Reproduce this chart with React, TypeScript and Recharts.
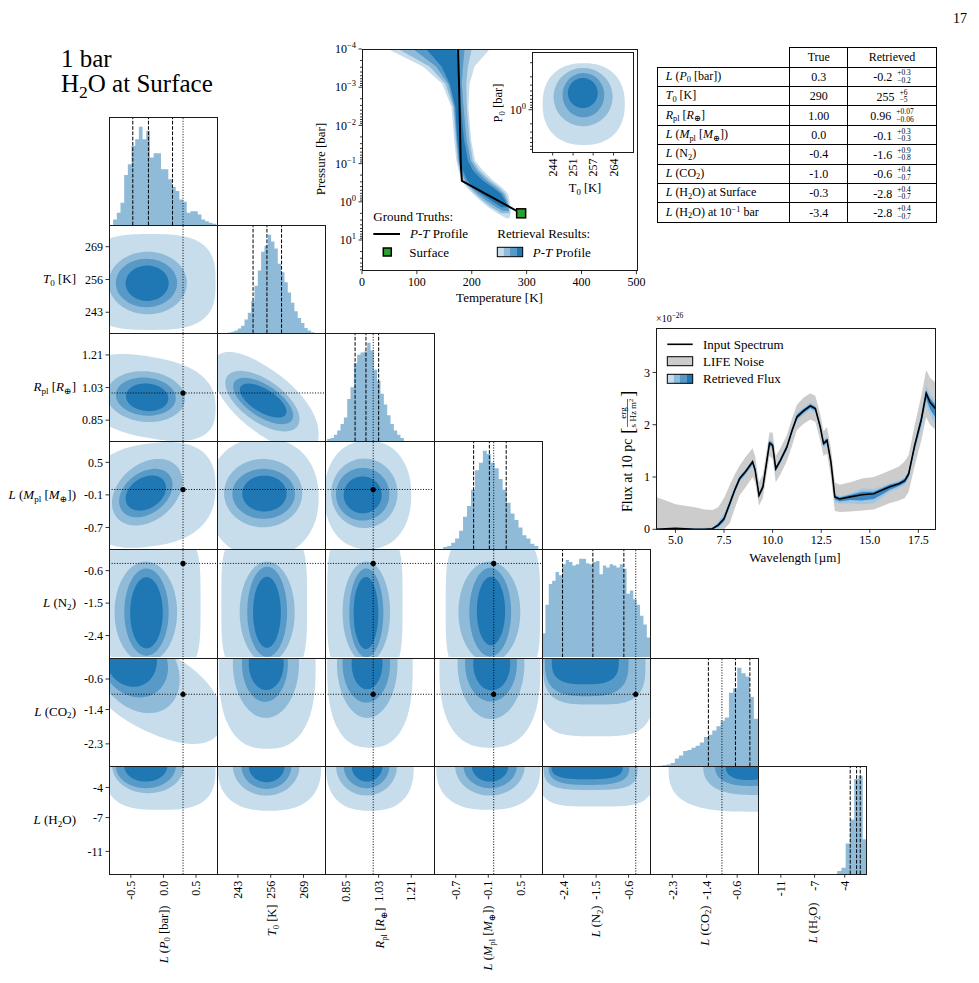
import React from 'react';
import { ComposedChart, Area, Line, XAxis, YAxis, ReferenceLine, ReferenceDot } from 'recharts';

const FONT = '"Liberation Serif", "DejaVu Serif", serif';
const LEVEL_COLORS = ['#c7ddec', '#8fbbd9', '#5799c7', '#1f77b4'];
const HIST_COLOR = '#8fbbd9';
const DOT = '1 1.65';
const DASH = '3.7 1.6';

// ---------------- corner plot data (order: P0, T0, Rpl, Mpl, N2, CO2, H2O) ----------------
const DOMAINS: number[][] = [
  [-0.835, 0.825], [234.7, 277.6], [0.734, 1.331], [-1.1, 0.893], [-3.0, 0.0], [-2.885, -0.05], [-13.6, -1.75],
];
const TICKS: number[][] = [
  [-0.5, 0, 0.5], [243, 256, 269], [0.85, 1.03, 1.21], [-0.7, -0.1, 0.5], [-2.4, -1.5, -0.6], [-2.3, -1.4, -0.6], [-11.1, -7.4, -4.1],
];
const TICK_DECIMALS = [1, 0, 2, 1, 1, 1, 0];
const TRUTHS = [0.301, 290, 1.0, 0.0, -0.4, -1.0, -0.3];
const QUANTILES: number[][] = [
  [-0.47, -0.23, 0.14], [249, 254.5, 260.3], [0.9, 0.96, 1.03], [-0.37, -0.08, 0.23],
  [-2.43, -1.59, -0.73], [-1.355, -0.646, -0.268], [-3.5, -2.8, -2.4],
];

const HIST_P0 = [17, 37, 67, 150, 182, 237, 257, 294, 257, 282, 202, 215, 215, 167, 167, 137, 114, 102, 77, 70, 37, 42, 42, 32, 17, 12, 7, 4];
const HIST_T0 = [2, 4, 8, 14, 22, 40, 60, 95, 140, 185, 240, 258, 290, 270, 250, 205, 180, 150, 120, 90, 65, 45, 30, 15, 8, 3];
const HIST_RPL = [2, 3, 6, 10, 16, 22, 39, 50, 72, 80, 82, 83, 91, 84, 66, 56, 44, 34, 24, 16, 10, 6, 3];
const HIST_MPL = [2, 3, 6, 10, 17, 30, 40, 55, 73, 80, 91, 88, 80, 75, 65, 55, 43, 33, 27, 20, 13, 10, 5, 3];
const HIST_N2 = [22, 48, 67, 70, 78, 75, 85, 89, 87, 84, 85, 90, 90, 86, 85, 87, 88, 76, 84, 82, 85, 84, 82, 85, 81, 58, 61, 53, 48, 38, 30, 18];
const HIST_CO2 = [0.5, 0.8, 1.5, 3, 7, 10, 14, 15, 17, 19, 22, 27, 29, 33, 37, 42, 45, 68, 72, 91, 86, 83, 64, 44];
const HIST_H2O = [3, 6, 28, 50, 87, 90, 32];
const HISTS = [HIST_P0, HIST_T0, HIST_RPL, HIST_MPL, HIST_N2, HIST_CO2, HIST_H2O];
const HIST_STARTS = [-0.772, 239, 0.746, -0.93, -3.0, -2.67, -4.93];
const HIST_WIDTHS = [0.0565, 1.32, 0.0184, 0.073, 0.09375, 0.109, 0.467];

// contour levels, outer -> inner: [centre x, centre y, half-width x, half-height y, shear, shape exponent]
const CT_T0_P0 = [[-0.2, 255, 1.0, 19, 0, 3], [-0.24, 254.6, 0.6, 12.4, 0, 2], [-0.26, 254.6, 0.47, 9.6, 0, 2], [-0.25, 254.5, 0.33, 7, 0, 2]];
const CT_RPL_P0 = [[-0.2, 0.975, 1.0, 0.225, -0.06, 2.6], [-0.27, 0.98, 0.6, 0.14, -0.02, 2], [-0.27, 0.98, 0.46, 0.105, -0.02, 2], [-0.25, 0.976, 0.325, 0.076, -0.02, 2]];
const CT_RPL_T0 = [[254, 0.95, 21, 0.2, -0.0085, 2.2], [252.7, 0.955, 14.7, 0.134, -0.0068, 2], [253, 0.956, 11.9, 0.1, -0.0067, 2], [253, 0.958, 9.25, 0.072, -0.0065, 2]];
const CT_MPL_P0 = [[-0.2, -0.1, 1.0, 0.95, 0.15, 2.5], [-0.25, -0.05, 0.54, 0.58, 0.37, 2], [-0.27, -0.066, 0.41, 0.42, 0.37, 2], [-0.27, -0.066, 0.31, 0.307, 0.32, 2]];
const CT_MPL_T0 = [[253, -0.15, 22, 1.1, 0, 2.2], [253, -0.066, 15.5, 0.63, 0, 2], [253.2, -0.08, 12.4, 0.46, 0, 2], [253.5, -0.075, 8.8, 0.33, 0, 2]];
const CT_MPL_RPL = [[0.97, -0.1, 0.24, 1.0, 0, 2.2], [0.951, -0.07, 0.183, 0.64, 0, 2], [0.942, -0.088, 0.147, 0.486, 0, 2], [0.942, -0.1, 0.105, 0.34, 0, 2]];
const CT_N2_P0 = [[-0.15, -1.5, 0.72, 2.0, 0, 4], [-0.27, -1.75, 0.48, 1.4, 0, 2], [-0.26, -1.75, 0.34, 1.21, 0, 2], [-0.26, -1.77, 0.25, 0.986, 0, 2]];
const CT_N2_T0 = [[253.4, -1.5, 17, 2.0, 0, 4], [254.6, -1.75, 10.9, 1.4, 0, 2], [254.6, -1.74, 7.9, 1.25, 0, 2], [254.5, -1.755, 5.5, 0.985, 0, 2]];
const CT_N2_RPL = [[0.954, -1.5, 0.208, 2.0, 0, 4], [0.962, -1.75, 0.131, 1.4, 0, 2], [0.962, -1.77, 0.094, 1.23, 0, 2], [0.96, -1.775, 0.068, 1.0, 0, 2]];
const CT_N2_MPL = [[-0.015, -1.6, 0.87, 2.0, 0, 4], [-0.08, -1.75, 0.57, 1.4, 0, 2], [-0.064, -1.75, 0.385, 1.23, 0, 2], [-0.05, -1.72, 0.26, 0.95, 0, 2]];
const CT_CO2_P0 = [[-0.15, -0.9, 1.05, 1.15, -0.7, 2.2], [-0.4, -0.3, 0.65, 1.15, -0.5, 2], [-0.45, -0.15, 0.52, 0.92, -0.3, 2], [-0.5, -0.05, 0.4, 0.75, -0.2, 2]];
const CT_CO2_T0 = [[254.6, -0.3, 19.2, 2.13, 0, 2.5], [254.1, -0.2, 13.1, 1.42, 0, 2], [253.7, -0.2, 9.1, 1.0, 0, 2], [254.2, -0.2, 6.9, 0.69, 0, 2]];
const CT_CO2_RPL = [[0.982, -0.3, 0.236, 2.1, 0, 2.5], [0.967, -0.2, 0.167, 1.42, 0, 2], [0.962, -0.2, 0.131, 1.02, 0, 2], [0.966, -0.2, 0.085, 0.67, 0, 2]];
const CT_CO2_MPL = [[-0.07, -0.3, 0.93, 2.1, 0, 2.5], [-0.05, -0.2, 0.615, 1.45, 0, 2], [-0.05, -0.2, 0.477, 0.99, 0, 2], [-0.037, -0.2, 0.34, 0.7, 0, 2]];
const CT_CO2_N2 = [[-1.5, -0.1, 1.65, 2.0, 0, 4], [-1.55, -0.1, 1.42, 1.17, 0, 3.5], [-1.76, -0.1, 1.16, 0.95, 0, 3], [-1.8, -0.1, 0.93, 0.64, 0, 3]];
const CT_H2O_P0 = [[-0.05, -1.75, 0.85, 4.8, 0, 3], [-0.235, -1.75, 0.55, 2.98, 0, 2], [-0.27, -1.75, 0.46, 2.43, 0, 2], [-0.27, -1.75, 0.33, 1.71, 0, 2]];
const CT_H2O_T0 = [[255.5, -1.75, 20.5, 4.9, 0, 2.5], [254.2, -1.75, 13.2, 3.24, 0, 2], [254.3, -1.75, 9.9, 2.51, 0, 2], [254.4, -1.75, 7.1, 1.78, 0, 2]];
const CT_H2O_RPL = [[0.982, -1.75, 0.242, 4.9, 0, 2.5], [0.963, -1.75, 0.168, 3.24, 0, 2], [0.963, -1.75, 0.126, 2.43, 0, 2], [0.966, -1.75, 0.085, 1.71, 0, 2]];
const CT_H2O_MPL = [[-0.1, -1.75, 0.96, 4.8, 0, 2.5], [-0.07, -1.75, 0.64, 3.24, 0, 2], [-0.066, -1.75, 0.49, 2.43, 0, 2], [-0.067, -1.75, 0.337, 1.71, 0, 2]];
const CT_H2O_N2 = [[-1.5, -1.75, 1.6, 4.44, 0, 4], [-1.65, -1.75, 1.3, 2.62, 0, 3.5], [-1.7, -1.75, 1.12, 2.07, 0, 3], [-1.75, -1.75, 0.99, 1.45, 0, 3]];
const CT_H2O_CO2 = [[-0.15, -1.75, 2.25, 5.0, 0, 3], [-0.2, -1.75, 1.29, 3.17, 0, 2.5], [-0.25, -1.75, 0.93, 2.18, 0, 2.5], [-0.3, -1.75, 0.6, 1.53, 0, 2.5]];
const CONTOURS: Record<string, number[][]> = {
  '1-0': CT_T0_P0,
  '2-0': CT_RPL_P0, '2-1': CT_RPL_T0,
  '3-0': CT_MPL_P0, '3-1': CT_MPL_T0, '3-2': CT_MPL_RPL,
  '4-0': CT_N2_P0, '4-1': CT_N2_T0, '4-2': CT_N2_RPL, '4-3': CT_N2_MPL,
  '5-0': CT_CO2_P0, '5-1': CT_CO2_T0, '5-2': CT_CO2_RPL, '5-3': CT_CO2_MPL, '5-4': CT_CO2_N2,
  '6-0': CT_H2O_P0, '6-1': CT_H2O_T0, '6-2': CT_H2O_RPL, '6-3': CT_H2O_MPL, '6-4': CT_H2O_N2, '6-5': CT_H2O_CO2,
};

type Seg = [string, string?];
const LABELS: Seg[][] = [
  [['L', 'i'], [' ('], ['P', 'i'], ['0', 's'], [' [bar])']],
  [['T', 'i'], ['0', 's'], [' [K]']],
  [['R', 'i'], ['pl', 's'], [' ['], ['R', 'i'], ['⊕', 's'], [']']],
  [['L', 'i'], [' ('], ['M', 'i'], ['pl', 's'], [' ['], ['M', 'i'], ['⊕', 's'], ['])']],
  [['L', 'i'], [' (N'], ['2', 's'], [')']],
  [['L', 'i'], [' (CO'], ['2', 's'], [')']],
  [['L', 'i'], [' (H'], ['2', 's'], ['O)']],
];

// ---------------- P-T profile data ----------------
// rows: [log10 pressure (bar), T low (K), T high (K)]
const PT_L1 = [[-4.0, 47, 233], [-3.54, 111, 205], [-3.09, 146, 196], [-2.48, 163, 194], [-1.61, 168, 199], [-1.08, 172, 206], [-0.82, 176, 220], [-0.56, 182, 239], [-0.39, 190, 254], [-0.21, 202, 266], [-0.03, 216, 269], [0.14, 230, 271], [0.31, 248, 271], [0.43, 263, 269]];
const PT_L2 = [[-4.0, 66, 200], [-3.54, 123, 193], [-3.09, 152, 190], [-2.48, 166, 191], [-1.61, 171, 196], [-1.08, 174, 202], [-0.82, 178, 214], [-0.56, 185, 233], [-0.39, 194, 249], [-0.21, 206, 261], [-0.03, 220, 266], [0.14, 236, 268], [0.3, 254, 269]];
const PT_L3 = [[-4.0, 93, 187], [-3.54, 135, 184], [-3.09, 157, 182], [-2.48, 168, 185], [-1.61, 172.5, 190.7], [-1.08, 176, 198], [-0.82, 181, 209], [-0.56, 188, 227], [-0.39, 198, 243], [-0.21, 211, 257], [-0.03, 227, 264], [0.14, 245, 267], [0.24, 257, 268]];
const PT_L4 = [[-4.0, 117, 172], [-3.54, 145, 175], [-3.09, 160, 176], [-2.48, 170, 180], [-1.61, 174, 186], [-1.08, 178, 193], [-0.82, 184, 202], [-0.56, 192, 220], [-0.39, 202, 237], [-0.21, 217, 253], [-0.03, 236, 261], [0.14, 254, 266]];
const PT_BANDS = [PT_L1, PT_L2, PT_L3, PT_L4];
const PT_TRUE_T = [175, 177, 178.5, 180, 182, 290];
const PT_TRUE_LOGP = [-4, -3, -2, -1, -0.55, 0.301];
const SURFACE_T = 290;
const SURFACE_P_BAR = 2.0;
const PT_T_TICKS = [0, 100, 200, 300, 400, 500];
const PT_DECADES = [-4, -3, -2, -1, 0, 1];

// inset: T0 (K) vs log10 P0 (bar)
const CT_INSET = [[254.2, -0.12, 13.5, 0.87, 0, 2.3], [254, -0.27, 9.7, 0.62, 0, 2], [254.1, -0.31, 6.85, 0.47, 0, 2], [253.9, -0.355, 4.9, 0.32, 0, 2]];
const INSET_T_TICKS = [244, 250.7, 257.3, 264];
const INSET_P_FACTORS = [0.1, 0.2, 0.3, 0.4, 0.5, 0.6, 0.7, 0.8, 0.9, 1, 2, 3, 4, 5, 6, 7];

// ---------------- spectrum data ----------------
const WAVELENGTH = [4.0, 4.5, 5.0, 5.5, 6.0, 6.5, 6.9, 7.2, 7.5, 7.8, 8.05, 8.3, 8.6, 8.97, 9.1, 9.3, 9.5, 9.84, 10.0, 10.16, 10.4, 10.73, 11.0, 11.25, 11.6, 11.94, 12.2, 12.45, 12.62, 12.8, 13.0, 13.2, 13.45, 14.0, 14.6, 15.2, 15.7, 16.0, 16.5, 16.8, 17.0, 17.3, 17.65, 17.9, 18.1, 18.4];
const FLUX = [0, 0.01, 0.02, 0.01, 0, 0, 0.01, 0.08, 0.2, 0.5, 0.75, 0.97, 1.1, 1.29, 1.13, 0.65, 0.81, 1.65, 1.61, 1.16, 1.32, 1.57, 1.89, 2.15, 2.27, 2.36, 2.31, 1.96, 1.64, 1.7, 1.29, 0.62, 0.58, 0.62, 0.66, 0.68, 0.76, 0.81, 0.87, 0.93, 1.06, 1.59, 2.1, 2.6, 2.43, 2.3];
const NOISE_LO = [0, 0, 0, 0, 0, 0, 0, 0, 0, 0.12, 0.4, 0.65, 0.8, 1.0, 0.9, 0.45, 0.6, 1.4, 1.35, 0.9, 1.05, 1.3, 1.6, 1.9, 2.02, 2.1, 2.05, 1.7, 1.4, 1.45, 1.0, 0.35, 0.33, 0.34, 0.36, 0.38, 0.45, 0.5, 0.55, 0.6, 0.72, 1.2, 1.7, 2.15, 2.0, 1.9];
const NOISE_HI = [0.62, 0.55, 0.48, 0.45, 0.42, 0.38, 0.37, 0.42, 0.6, 0.85, 1.05, 1.22, 1.38, 1.55, 1.4, 0.9, 1.05, 1.85, 1.85, 1.4, 1.55, 1.8, 2.12, 2.38, 2.52, 2.6, 2.55, 2.2, 1.88, 1.95, 1.55, 0.9, 0.85, 0.9, 0.97, 1.0, 1.07, 1.12, 1.2, 1.3, 1.42, 1.98, 2.55, 3.05, 2.9, 2.8];
const RET1_LO = [0, 0, 0, 0, 0, 0, 0, 0.02, 0.12, 0.4, 0.68, 0.9, 1.03, 1.22, 1.08, 0.6, 0.76, 1.57, 1.53, 1.08, 1.25, 1.5, 1.8, 2.07, 2.19, 2.29, 2.23, 1.88, 1.56, 1.62, 1.2, 0.52, 0.49, 0.5, 0.48, 0.5, 0.63, 0.71, 0.79, 0.85, 0.97, 1.45, 1.94, 2.4, 2.2, 2.0];
const RET1_HI = [0.02, 0.02, 0.03, 0.03, 0.02, 0.03, 0.04, 0.14, 0.3, 0.58, 0.82, 1.03, 1.15, 1.34, 1.2, 0.72, 0.88, 1.72, 1.68, 1.2, 1.38, 1.63, 1.95, 2.22, 2.33, 2.42, 2.37, 2.03, 1.71, 1.77, 1.35, 0.67, 0.63, 0.68, 0.78, 0.77, 0.83, 0.87, 0.93, 1.0, 1.13, 1.67, 2.22, 2.75, 2.58, 2.45];
const RET2_LO = [0, 0, 0, 0, 0, 0, 0, 0.05, 0.16, 0.45, 0.71, 0.93, 1.06, 1.25, 1.1, 0.62, 0.78, 1.6, 1.57, 1.12, 1.28, 1.53, 1.85, 2.11, 2.23, 2.32, 2.27, 1.92, 1.6, 1.66, 1.25, 0.57, 0.53, 0.56, 0.55, 0.58, 0.68, 0.75, 0.83, 0.89, 1.01, 1.52, 2.02, 2.5, 2.3, 2.12];
const RET2_HI = [0.01, 0.01, 0.02, 0.02, 0.01, 0.01, 0.02, 0.11, 0.24, 0.54, 0.79, 1.0, 1.13, 1.32, 1.17, 0.69, 0.85, 1.69, 1.65, 1.19, 1.35, 1.6, 1.92, 2.19, 2.3, 2.39, 2.34, 2.0, 1.68, 1.74, 1.32, 0.65, 0.61, 0.66, 0.72, 0.72, 0.8, 0.85, 0.9, 0.97, 1.1, 1.63, 2.16, 2.66, 2.5, 2.38];
const SPEC_X_TICKS = [5, 7.5, 10, 12.5, 15, 17.5];
const SPEC_Y_TICKS = [0, 1, 2, 3];

// ---------------- table ----------------
const TABLE_NAMES: Seg[][] = [
  LABELS[0], LABELS[1], LABELS[2], LABELS[3], LABELS[4], LABELS[5],
  [...LABELS[6], [' at Surface']],
  [...LABELS[6], [' at 10'], ['−1', 'p'], [' bar']],
];
const TABLE_TRUE = ['0.3', '290', '1.00', '0.0', '-0.4', '-1.0', '-0.3', '-3.4'];
const TABLE_MED = ['-0.2', '255', '0.96', '-0.1', '-1.6', '-0.6', '-2.8', '-2.8'];
const TABLE_PLUS = ['+0.3', '+6', '+0.07', '+0.3', '+0.9', '+0.4', '+0.4', '+0.4'];
const TABLE_MINUS = ['−0.2', '−5', '−0.06', '−0.3', '−0.8', '−0.7', '−0.7', '−0.7'];

// ---------------- geometry ----------------
const CELL = 108.2;
const GX = 109;
const GY = 116.5;
const YW = 40;
const XH = 30;

// ---------------- helpers ----------------
function bandRows(p: number[], n = 72) {
  const [cx, cy, a, b, s, pw = 2] = p;
  const rows: { x: number; r: number[] }[] = [];
  for (let i = 0; i <= n; i++) {
    const t = -Math.cos((Math.PI * i) / n);
    const x = cx + a * t;
    const h = b * Math.pow(Math.max(0, 1 - Math.pow(Math.abs(t), pw)), 1 / pw);
    const yc = cy + s * (x - cx);
    rows.push({ x, r: [yc - h, yc + h] });
  }
  return rows;
}

function histRows(counts: number[], start: number, width: number) {
  const rows = counts.map((c, i) => ({ x: start + i * width, c }));
  rows.push({ x: start + counts.length * width, c: counts[counts.length - 1] });
  return rows;
}

function renderSegs(segs: Seg[], size: number) {
  let shift = 0;
  return segs.map(([t, st], i) => {
    const isSub = st === 's' || st === 'si';
    const isSup = st === 'p';
    const target = isSub ? size * 0.22 : isSup ? -size * 0.4 : 0;
    const dy = target - shift;
    shift = target;
    return (
      <tspan key={i} dy={dy !== 0 ? dy : undefined} fontStyle={st === 'i' || st === 'si' ? 'italic' : undefined} fontSize={isSub || isSup ? size * 0.7 : undefined}>
        {t}
      </tspan>
    );
  });
}

function htmlSegs(segs: Seg[]) {
  return segs.map(([t, st], i) => {
    if (st === 'i') return <i key={i}>{t}</i>;
    if (st === 's') return <span key={i} style={{ fontSize: '0.7em', position: 'relative', top: '0.3em' }}>{t}</span>;
    if (st === 'p') return <span key={i} style={{ fontSize: '0.7em', position: 'relative', top: '-0.45em' }}>{t}</span>;
    return <span key={i}>{t}</span>;
  });
}

// rough width (px) of a 12px tick label, used to place the rotated axis titles below it
function tickLabelWidth(s: string) {
  let w = 0;
  for (const ch of s) w += ch === '.' ? 3 : ch === '-' ? 4 : 6;
  return w;
}

const txt = { fontSize: 12, fontFamily: FONT, fill: '#000' };

function leftTick(decimals: number) {
  return (props: any) => {
    const { x, y, payload } = props;
    return (
      <g>
        <line x1={x - 3.5} y1={y} x2={x} y2={y} stroke="#000" strokeWidth={0.8} />
        <text x={x - 6} y={y} dy="0.35em" textAnchor="end" {...txt}>{Number(payload.value).toFixed(decimals)}</text>
      </g>
    );
  };
}

function bottomTickRot(decimals: number) {
  return (props: any) => {
    const { x, y, payload } = props;
    const ty = y + 6.5;
    return (
      <g>
        <line x1={x} y1={y} x2={x} y2={y + 3.5} stroke="#000" strokeWidth={0.8} />
        <text x={x} y={ty} dy="0.35em" textAnchor="end" transform={`rotate(-90 ${x} ${ty})`} {...txt}>
          {Number(payload.value).toFixed(decimals)}
        </text>
      </g>
    );
  };
}

function bottomTickFlat(decimals: number) {
  return (props: any) => {
    const { x, y, payload } = props;
    return (
      <g>
        <line x1={x} y1={y} x2={x} y2={y + 3.5} stroke="#000" strokeWidth={0.8} />
        <text x={x} y={y + 6} dy="0.75em" textAnchor="middle" {...txt}>{Number(payload.value).toFixed(decimals)}</text>
      </g>
    );
  };
}

// ---------------- corner panel ----------------
function CornerPanel({ r, c }: { r: number; c: number }) {
  const isHist = r === c;
  const showY = c === 0 && r > 0;
  const showX = r === 6;
  const yw = showY ? YW : 0;
  const xh = showX ? XH : 0;
  const left = GX + c * CELL - yw;
  const top = GY + r * CELL;
  const yDom = isHist ? [0, Math.max(...HISTS[c]) * 1.1] : DOMAINS[r];
  const items: React.ReactNode[] = [];
  if (isHist) {
    items.push(
      <Area key="h" data={histRows(HISTS[c], HIST_STARTS[c], HIST_WIDTHS[c])} dataKey="c" type="stepAfter" fill={HIST_COLOR} fillOpacity={1} stroke="none" isAnimationActive={false} />
    );
    QUANTILES[c].forEach((q, i) =>
      items.push(<ReferenceLine key={'q' + i} x={q} stroke="#000" strokeWidth={1} strokeDasharray={DASH} />)
    );
    items.push(<ReferenceLine key="t" x={TRUTHS[c]} stroke="#000" strokeWidth={1} strokeDasharray={DOT} />);
  } else {
    CONTOURS[`${r}-${c}`].forEach((lv, i) =>
      items.push(
        <Area key={'a' + i} data={bandRows(lv)} dataKey="r" type="linear" fill={LEVEL_COLORS[i]} fillOpacity={1} stroke="none" isAnimationActive={false} />
      )
    );
    items.push(<ReferenceLine key="tx" x={TRUTHS[c]} stroke="#000" strokeWidth={1} strokeDasharray={DOT} />);
    items.push(<ReferenceLine key="ty" y={TRUTHS[r]} stroke="#000" strokeWidth={1} strokeDasharray={DOT} />);
    items.push(<ReferenceDot key="td" x={TRUTHS[c]} y={TRUTHS[r]} r={2.6} fill="#000" stroke="none" />);
  }
  return (
    <div style={{ position: 'absolute', left, top }}>
      <ComposedChart width={CELL + yw} height={CELL + xh} margin={{ top: 0, right: 0, bottom: 0, left: 0 }}>
        <XAxis type="number" dataKey="x" domain={DOMAINS[c]} allowDataOverflow ticks={TICKS[c]} interval={0} hide={!showX} height={XH} tickSize={0} tickMargin={0} tickLine={false} axisLine={false} tick={bottomTickRot(TICK_DECIMALS[c])} />
        <YAxis type="number" domain={yDom} allowDataOverflow ticks={showY ? TICKS[r] : undefined} interval={0} hide={!showY} width={YW} tickSize={0} tickMargin={0} tickLine={false} axisLine={false} tick={leftTick(TICK_DECIMALS[r])} />
        {items}
      </ComposedChart>
    </div>
  );
}

// ---------------- P-T chart ----------------
const PT_PLOT = { x: 362.3, y: 48.5, w: 274.4, h: 221.6 };
function ptYTick(props: any) {
  const { x, y, payload } = props;
  const v = payload.value;
  const major = Math.abs(v - Math.round(v)) < 1e-6;
  const n = Math.round(v);
  return (
    <g>
      <line x1={x - (major ? 3.5 : 2)} y1={y} x2={x} y2={y} stroke="#000" strokeWidth={0.8} />
      {major ? (
        <text x={x - 6} y={y} dy="0.35em" textAnchor="end" {...txt}>
          10<tspan dy={-5} fontSize={8.5}>{n < 0 ? '−' + Math.abs(n) : String(n)}</tspan>
        </text>
      ) : null}
    </g>
  );
}
function PTChart() {
  const yw = 48;
  const xh = 30;
  const rm = 14;
  const tm = 12;
  const pTicks: number[] = [];
  PT_DECADES.forEach((d) => {
    for (let k = 1; k <= 9; k++) {
      const v = d + Math.log10(k);
      if (v <= 1.8) pTicks.push(v);
    }
  });
  const bandData = (b: number[][]) => b.map(([lp, lo, hi]) => ({ lp, t: [lo, hi] }));
  const trueData = PT_TRUE_T.map((t, i) => ({ lp: PT_TRUE_LOGP[i], t }));
  return (
    <div style={{ position: 'absolute', left: PT_PLOT.x - yw, top: PT_PLOT.y - tm }}>
      <ComposedChart layout="vertical" width={PT_PLOT.w + yw + rm} height={PT_PLOT.h + xh + tm} margin={{ top: tm, right: rm, bottom: 0, left: 0 }}>
        <XAxis type="number" domain={[0, 500]} ticks={PT_T_TICKS} allowDataOverflow interval={0} height={xh} tickSize={0} tickMargin={0} tickLine={false} axisLine={false} tick={bottomTickFlat(0)} />
        <YAxis type="number" dataKey="lp" domain={[-4, 1.8]} allowDataOverflow ticks={pTicks} interval={0} width={yw} tickSize={0} tickMargin={0} tickLine={false} axisLine={false} tick={ptYTick} />
        {PT_BANDS.map((b, i) => (
          <Area key={i} data={bandData(b)} dataKey="t" type="linear" fill={LEVEL_COLORS[i]} fillOpacity={1} stroke="none" isAnimationActive={false} />
        ))}
        <Line data={trueData} dataKey="t" type="linear" stroke="#000" strokeWidth={2} dot={false} isAnimationActive={false} />
        <ReferenceDot
          x={SURFACE_T}
          y={Math.log10(SURFACE_P_BAR)}
          shape={(p: any) => <rect x={p.cx - 4.5} y={p.cy - 4.5} width={9} height={9} fill="#2ca02c" stroke="#000" strokeWidth={1.5} />}
        />
      </ComposedChart>
    </div>
  );
}

const INSET_PLOT = { x: 531.7, y: 52.3, w: 101, h: 100 };
function insetYTick(props: any) {
  const { x, y, payload } = props;
  const major = Math.abs(payload.value) < 1e-6;
  return (
    <g>
      <line x1={x - (major ? 3.5 : 2)} y1={y} x2={x} y2={y} stroke="#000" strokeWidth={0.8} />
      {major ? (
        <text x={x - 6} y={y} dy="0.35em" textAnchor="end" {...txt}>
          10<tspan dy={-5} fontSize={8.5}>0</tspan>
        </text>
      ) : null}
    </g>
  );
}
function InsetChart() {
  const yw = 30;
  const xh = 30;
  const pTicks = INSET_P_FACTORS.map((f) => Math.log10(f));
  return (
    <div style={{ position: 'absolute', left: INSET_PLOT.x - yw, top: INSET_PLOT.y }}>
      <ComposedChart width={INSET_PLOT.w + yw} height={INSET_PLOT.h + xh} margin={{ top: 0, right: 0, bottom: 0, left: 0 }}>
        <XAxis type="number" dataKey="x" domain={[237.2, 270.4]} allowDataOverflow ticks={INSET_T_TICKS} interval={0} height={xh} tickSize={0} tickMargin={0} tickLine={false} axisLine={false} tick={bottomTickRot(0)} />
        <YAxis type="number" domain={[-1.228, 0.9]} reversed allowDataOverflow ticks={pTicks} interval={0} width={yw} tickSize={0} tickMargin={0} tickLine={false} axisLine={false} tick={insetYTick} />
        {CT_INSET.map((lv, i) => (
          <Area key={i} data={bandRows(lv)} dataKey="r" type="linear" fill={LEVEL_COLORS[i]} fillOpacity={1} stroke="none" isAnimationActive={false} />
        ))}
      </ComposedChart>
    </div>
  );
}

// ---------------- spectrum ----------------
const SPEC_PLOT = { x: 655.7, y: 327.7, w: 279.3, h: 201.3 };
function SpectrumChart() {
  const yw = 22;
  const xh = 22;
  const rows = WAVELENGTH.map((w, i) => ({
    w,
    flux: FLUX[i],
    noise: [NOISE_LO[i], NOISE_HI[i]],
    ret1: [RET1_LO[i], RET1_HI[i]],
    ret2: [RET2_LO[i], RET2_HI[i]],
  }));
  return (
    <div style={{ position: 'absolute', left: SPEC_PLOT.x - yw, top: SPEC_PLOT.y }}>
      <ComposedChart data={rows} width={SPEC_PLOT.w + yw} height={SPEC_PLOT.h + xh} margin={{ top: 0, right: 0, bottom: 0, left: 0 }}>
        <XAxis type="number" dataKey="w" domain={[4.0, 18.37]} allowDataOverflow ticks={SPEC_X_TICKS} interval={0} height={xh} tickSize={0} tickMargin={0} tickLine={false} axisLine={false} tick={bottomTickFlat(1)} />
        <YAxis type="number" domain={[0, 3.85]} allowDataOverflow ticks={SPEC_Y_TICKS} interval={0} width={yw} tickSize={0} tickMargin={0} tickLine={false} axisLine={false} tick={leftTick(0)} />
        <Area dataKey="noise" type="linear" fill="#cccccc" fillOpacity={1} stroke="none" isAnimationActive={false} />
        <Area dataKey="ret1" type="linear" fill="#9fc6e2" fillOpacity={1} stroke="none" isAnimationActive={false} />
        <Area dataKey="ret2" type="linear" fill="#3d88c3" fillOpacity={1} stroke="none" isAnimationActive={false} />
        <Line dataKey="flux" type="linear" stroke="#000" strokeWidth={1.6} dot={false} isAnimationActive={false} />
      </ComposedChart>
    </div>
  );
}

// ---------------- table ----------------
function ResultsTable() {
  const cell: React.CSSProperties = { border: '1px solid #000', height: 18.4, padding: 0, fontSize: 12, lineHeight: '12px', whiteSpace: 'nowrap' };
  return (
    <table style={{ position: 'absolute', left: 656.7, top: 47.3, borderCollapse: 'collapse', fontFamily: FONT, tableLayout: 'fixed', width: 279 }}>
      <colgroup>
        <col style={{ width: 132.6 }} />
        <col style={{ width: 58 }} />
        <col style={{ width: 88.4 }} />
      </colgroup>
      <tbody>
        <tr>
          <td style={{ ...cell, border: 'none' }} />
          <td style={{ ...cell, textAlign: 'center' }}>True</td>
          <td style={{ ...cell, textAlign: 'center' }}>Retrieved</td>
        </tr>
        {TABLE_NAMES.map((n, i) => (
          <tr key={i}>
            <td style={{ ...cell, paddingLeft: 8 }}>{htmlSegs(n)}</td>
            <td style={{ ...cell, textAlign: 'center' }}>{TABLE_TRUE[i]}</td>
            <td style={{ ...cell, textAlign: 'center' }}>
              <span style={{ verticalAlign: 'middle' }}>{TABLE_MED[i]}</span>
              <span style={{ display: 'inline-block', verticalAlign: 'middle', fontSize: 7.5, lineHeight: '7.5px', textAlign: 'left', marginLeft: 5 }}>
                {TABLE_PLUS[i]}
                <br />
                {TABLE_MINUS[i]}
              </span>
            </td>
          </tr>
        ))}
      </tbody>
    </table>
  );
}

// ---------------- text + frame overlay ----------------
function crispRect(x: number, y: number, w: number, h: number, key: string) {
  const x0 = Math.round(x);
  const y0 = Math.round(y);
  const x1 = Math.round(x + w);
  const y1 = Math.round(y + h);
  return <rect key={key} x={x0 + 0.5} y={y0 + 0.5} width={x1 - x0 - 1} height={y1 - y0 - 1} fill="none" stroke="#1a1a1a" strokeWidth={1} />;
}

function Overlay() {
  const lab = { fontFamily: FONT, fill: '#000' };
  const frames: React.ReactNode[] = [];
  for (let r = 0; r < 7; r++) {
    for (let c = 0; c <= r; c++) frames.push(crispRect(GX + c * CELL, GY + r * CELL, CELL + 1, CELL + 1, `f${r}-${c}`));
  }
  frames.push(crispRect(PT_PLOT.x, PT_PLOT.y, PT_PLOT.w + 1, PT_PLOT.h + 1, 'fpt'));
  frames.push(crispRect(INSET_PLOT.x, INSET_PLOT.y, INSET_PLOT.w + 1, INSET_PLOT.h + 1, 'fin'));
  frames.push(crispRect(SPEC_PLOT.x, SPEC_PLOT.y, SPEC_PLOT.w + 1, SPEC_PLOT.h + 1, 'fsp'));
  return (
    <svg width={979} height={983} style={{ position: 'absolute', left: 0, top: 0, pointerEvents: 'none' }}>
      {frames}
      <text x={967} y={23} textAnchor="end" fontSize={14} {...lab}>17</text>
      <text x={61} y={66.5} fontSize={25} {...lab}>1 bar</text>
      <text x={61} y={92} fontSize={25} {...lab}>{renderSegs([['H'], ['2', 's'], ['O at Surface']], 25)}</text>

      {LABELS.map((segs, r) =>
        r === 0 ? null : (
          <text key={'yl' + r} x={76} y={GY + (r + 0.5) * CELL + 4} textAnchor="end" fontSize={13} {...lab}>
            {renderSegs(segs, 13)}
          </text>
        )
      )}
      {LABELS.map((segs, c) => {
        const cx = GX + (c + 0.5) * CELL + 4.5;
        const longest = Math.max(...TICKS[c].map((v) => tickLabelWidth(v.toFixed(TICK_DECIMALS[c]))));
        const ty = 880.5 + longest + 6;
        return (
          <text key={'xl' + c} x={cx} y={ty} textAnchor="end" transform={`rotate(-90 ${cx} ${ty})`} fontSize={12.5} {...lab}>
            {renderSegs(segs, 12.5)}
          </text>
        );
      })}

      {/* P-T chart labels */}
      <text x={325} y={159} textAnchor="middle" transform="rotate(-90 325 159)" fontSize={13} {...lab}>Pressure [bar]</text>
      <text x={499.5} y={302} textAnchor="middle" fontSize={13} {...lab}>Temperature [K]</text>
      <text x={373.3} y={220.5} fontSize={13} {...lab}>Ground Truths:</text>
      <line x1={373.3} y1={234} x2={400} y2={234} stroke="#000" strokeWidth={2} />
      <text x={410} y={238} fontSize={13} {...lab}>{renderSegs([['P-T', 'i'], [' Profile']], 13)}</text>
      <rect x={383.3} y={248} width={8} height={8} fill="#2ca02c" stroke="#000" strokeWidth={1.5} />
      <text x={409.3} y={256.5} fontSize={13} {...lab}>Surface</text>
      <text x={497.3} y={238} fontSize={13} {...lab}>Retrieval Results:</text>
      {LEVEL_COLORS.map((col, i) => (
        <rect key={'ptl' + i} x={497.3 + i * 6.35} y={247.3} width={6.35} height={9.4} fill={col} />
      ))}
      <rect x={497.3} y={247.3} width={25.4} height={9.4} fill="none" stroke="#000" strokeWidth={1} />
      <text x={532.7} y={256.5} fontSize={13} {...lab}>{renderSegs([['P-T', 'i'], [' Profile']], 13)}</text>

      {/* inset labels */}
      <text x={502} y={103} textAnchor="middle" transform="rotate(-90 502 103)" fontSize={12.5} {...lab}>{renderSegs([['P'], ['0', 's'], [' [bar]']], 12.5)}</text>
      <text x={585} y={192} textAnchor="middle" fontSize={12.5} {...lab}>{renderSegs([['T'], ['0', 's'], [' [K]']], 12.5)}</text>

      {/* spectrum labels */}
      <text x={656} y={322} fontSize={10} {...lab}>×10<tspan dy={-4} fontSize={7.5}>−26</tspan></text>
      <text x={795} y={562} textAnchor="middle" fontSize={13} {...lab}>Wavelength [µm]</text>
      <g transform="translate(632 442) rotate(-90)">
        <text x={-70} y={0} fontSize={14} {...lab}>Flux at 10 pc</text>
        <text x={8} y={2} fontSize={19} {...lab}>[</text>
        <text x={29} y={-6.5} textAnchor="middle" fontSize={9} {...lab}>erg</text>
        <line x1={15} y1={-4.5} x2={43} y2={-4.5} stroke="#000" strokeWidth={0.6} />
        <text x={29} y={4} textAnchor="middle" fontSize={9} {...lab}>s Hz m<tspan dy={-3.5} fontSize={6.5}>2</tspan></text>
        <text x={45} y={2} fontSize={19} {...lab}>]</text>
      </g>
      <line x1={667.3} y1={344.3} x2={692.7} y2={344.3} stroke="#000" strokeWidth={1.6} />
      <text x={703} y={348.5} fontSize={13} {...lab}>Input Spectrum</text>
      <rect x={667.3} y={356.7} width={25.4} height={9} fill="#cccccc" stroke="#000" strokeWidth={1} />
      <text x={703} y={365.5} fontSize={13} {...lab}>LIFE Noise</text>
      {LEVEL_COLORS.map((col, i) => (
        <rect key={'spl' + i} x={667.3 + i * 6.35} y={374.3} width={6.35} height={9} fill={col} />
      ))}
      <rect x={667.3} y={374.3} width={25.4} height={9} fill="none" stroke="#000" strokeWidth={1} />
      <text x={703} y={383} fontSize={13} {...lab}>Retrieved Flux</text>
    </svg>
  );
}

export default function App() {
  const panels: React.ReactNode[] = [];
  for (let r = 0; r < 7; r++) {
    for (let c = 0; c <= r; c++) panels.push(<CornerPanel key={`p${r}-${c}`} r={r} c={c} />);
  }
  return (
    <div style={{ position: 'absolute', left: 0, top: 0, width: 979, height: 983, background: '#fff', overflow: 'hidden', fontFamily: FONT }}>
      {panels}
      <PTChart />
      <div style={{ position: 'absolute', left: INSET_PLOT.x, top: INSET_PLOT.y, width: INSET_PLOT.w, height: INSET_PLOT.h, background: '#fff' }} />
      <InsetChart />
      <SpectrumChart />
      <ResultsTable />
      <Overlay />
    </div>
  );
}
